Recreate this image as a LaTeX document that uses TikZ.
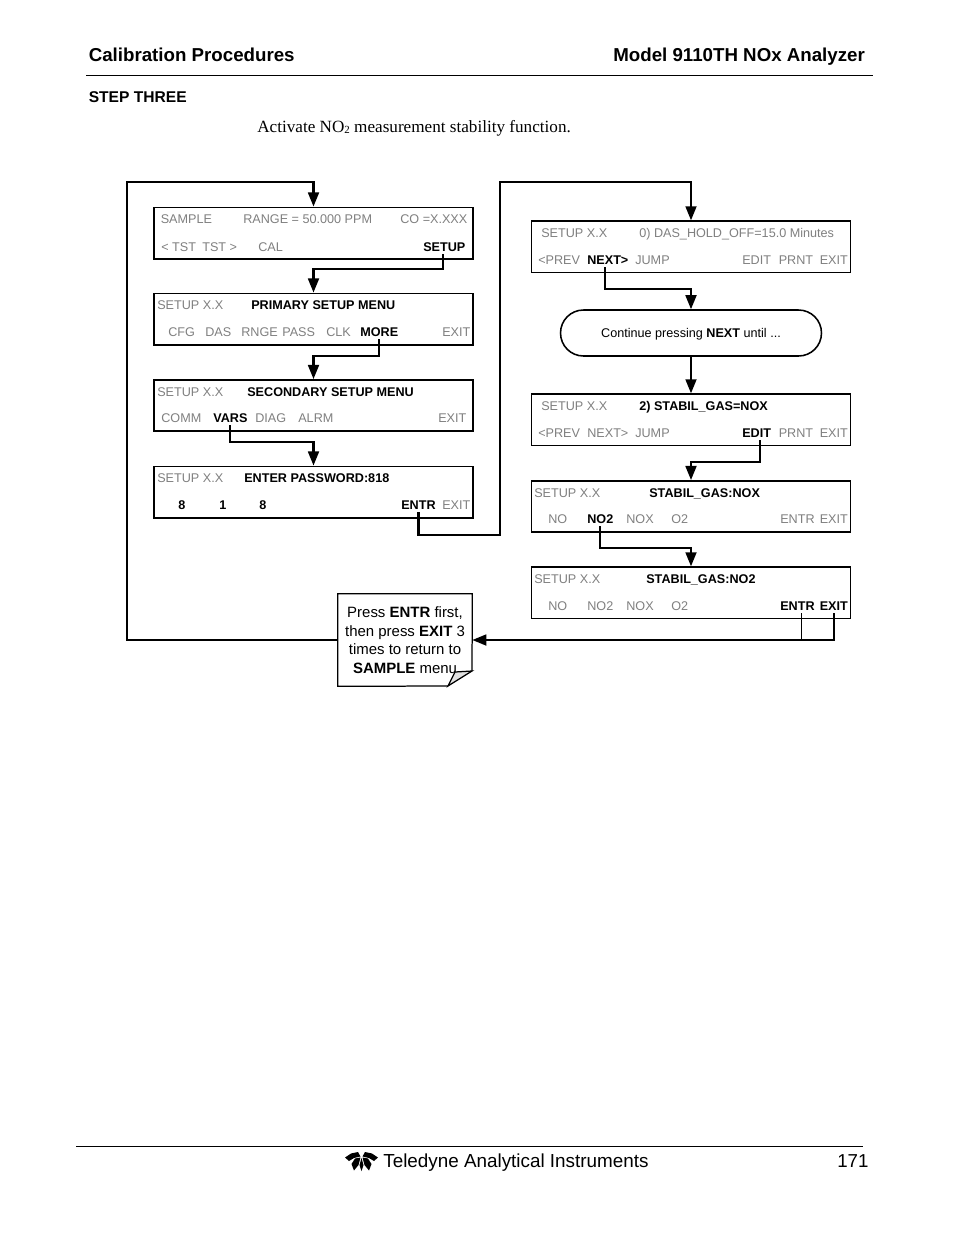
\documentclass[tikz,border=0pt]{standalone}
\usepackage{fontspec}
\setmainfont{Liberation Sans}
\newfontfamily\bodyserif{Liberation Serif}
\usetikzlibrary{arrows.meta,calc}
\definecolor{lcdgrey}{gray}{0.5}
\tikzset{
  lcdbox/.style={draw=black,line width=1pt,fill=white,inner sep=0pt,minimum width=204.6pt,minimum height=33pt},
  lbl/.style={anchor=base west,inner sep=0pt,text depth=2pt,font=\fontsize{8.1}{9.6}\selectfont},
  off/.style={lbl,text=lcdgrey},
  on/.style={lbl,text=black,font=\fontsize{8.1}{9.6}\selectfont\bfseries},
  flow/.style={draw=black,line width=1.3pt,-{Triangle[length=9pt,width=7pt]}},
  hair/.style={draw=black,line width=0.5pt},
  head/.style={anchor=base west,inner sep=0pt,font=\fontsize{12}{15}\selectfont\bfseries},
}
\begin{document}
\begin{tikzpicture}[x=0.6415pt,y=-0.6415pt]
\useasboundingbox[fill=white] (0,0) rectangle (954,1235);

% page furniture
\node[head] (title) at (88.5,61) {Calibration Procedures};
\node[head] (model) at (613,61) {Model 9110TH NOx Analyzer};
\coordinate (ruleA) at (86,75.5);
\coordinate (ruleB) at (873,75.5);
\draw[line width=1pt] (ruleA) -- (ruleB);
\node[anchor=base west,inner sep=0pt,font=\fontsize{10}{12}\selectfont\bfseries] (step) at (88.5,102) {STEP THREE};
\node[anchor=base west,inner sep=0pt,font=\bodyserif\fontsize{11}{13}\selectfont] (activate) at (257,132) {Activate NO\raisebox{-0.25ex}{\fontsize{7}{7}\selectfont 2} measurement stability function.};
\coordinate (footA) at (76,1146.5);
\coordinate (footB) at (863,1146.5);
\draw[line width=0.6pt] (footA) -- (footB);
\node[anchor=base west,inner sep=0pt,font=\fontsize{12.1}{14}\selectfont] (teledyne) at (383,1167.5) {Teledyne Analytical Instruments};
\node[anchor=base west,inner sep=0pt,font=\fontsize{12}{14}\selectfont] (page) at (837,1167.5) {171};
% logo
\fill[black] (345,1157.5) -- (351,1153.5) -- (358,1152) -- (360.5,1156.5) -- (354,1158) -- (349,1161) -- cycle;
\fill[black] (378,1157.5) -- (372,1153.5) -- (365,1152) -- (362.5,1156.5) -- (369,1158) -- (374,1161) -- cycle;
\fill[black] (360.5,1157.5) -- (355,1158.5) -- (351.5,1164) -- (354,1170.5) -- (358.5,1165) -- cycle;
\fill[black] (362.5,1157.5) -- (368,1158.5) -- (371.5,1164) -- (369,1170.5) -- (364.5,1165) -- cycle;
\fill[black] (361.5,1158) -- (359.5,1165) -- (361.5,1171) -- (363.5,1165) -- cycle;

% boxes
\node[lcdbox] (b1) at (313.5,233) {};
\node[lcdbox] (b2) at (313.5,319) {};
\node[lcdbox] (b3) at (313.5,405.5) {};
\node[lcdbox] (b4) at (313.5,492) {};
\node[lcdbox] (b5) at (691,246.8) {};
\node[lcdbox] (b6) at (691,419.8) {};
\node[lcdbox] (b7) at (691,506.5) {};
\node[lcdbox] (b8) at (691,592.8) {};
\node[draw=black,line width=1pt,rounded corners=14.7pt,fill=white,inner sep=0pt,minimum width=167.4pt,minimum height=29.5pt] (pill) at (691,333) {};
\node[anchor=base,inner sep=0pt,font=\fontsize{8.1}{9.6}\selectfont] (pilltext) at (691,337) {Continue pressing \textbf{NEXT} until ...};

% box 1
\node[off] (a1) at (160.5,223) {SAMPLE};
\node[off] (a2) at (243,223) {RANGE = 50.000 PPM};
\node[off] (a3) at (400,223) {CO =X.XXX};
\node[off] (a4) at (161,251) {< TST};
\node[off] (a5) at (202,251) {TST >};
\node[off] (a6) at (258,251) {CAL};
\node[on] (tSetup) at (423,251) {SETUP};
% box 2
\node[off] (c1) at (157,309) {SETUP X.X};
\node[on] (c2) at (251,309) {PRIMARY SETUP MENU};
\node[off] (c3) at (168,336) {CFG};
\node[off] (c4) at (205,336) {DAS};
\node[off] (c5) at (241,336) {RNGE};
\node[off] (c6) at (282,336) {PASS};
\node[off] (c7) at (326,336) {CLK};
\node[on] (tMore) at (360,336) {MORE};
\node[off] (c8) at (442,336) {EXIT};
% box 3
\node[off] (d1) at (157,396) {SETUP X.X};
\node[on] (d2) at (247,396) {SECONDARY SETUP MENU};
\node[off] (d3) at (161,422) {COMM};
\node[on] (tVars) at (213,422) {VARS};
\node[off] (d4) at (255,422) {DIAG};
\node[off] (d5) at (298,422) {ALRM};
\node[off] (d6) at (438,422) {EXIT};
% box 4
\node[off] (e1) at (157,482) {SETUP X.X};
\node[on] (e2) at (244,482) {ENTER PASSWORD:818};
\node[on] (e3) at (178,509) {8};
\node[on] (e4) at (219,509) {1};
\node[on] (e5) at (259,509) {8};
\node[on] (tEntrA) at (401,509) {ENTR};
\node[off] (e6) at (442,509) {EXIT};
% box 5
\node[off] (f1) at (541,237) {SETUP X.X};
\node[off] (f2) at (639,237) {0) DAS\_HOLD\_OFF=15.0 Minutes};
\node[off] (f3) at (538,264) {<PREV};
\node[on] (tNext) at (587,264) {NEXT>};
\node[off] (f4) at (635,264) {JUMP};
\node[off] (f5) at (742,264) {EDIT};
\node[off] (f6) at (778.5,264) {PRNT};
\node[off] (f7) at (819.5,264) {EXIT};
% box 6
\node[off] (g1) at (541,410) {SETUP X.X};
\node[on] (g2) at (639,410) {2) STABIL\_GAS=NOX};
\node[off] (g3) at (538,437) {<PREV};
\node[off] (g4) at (587,437) {NEXT>};
\node[off] (g5) at (635,437) {JUMP};
\node[on] (tEdit) at (742,437) {EDIT};
\node[off] (g6) at (778.5,437) {PRNT};
\node[off] (g7) at (819.5,437) {EXIT};
% box 7
\node[off] (h1) at (534,497) {SETUP X.X};
\node[on] (h2) at (649,497) {STABIL\_GAS:NOX};
\node[off] (h3) at (548,523) {NO};
\node[on] (tNoTwo) at (587,523) {NO2};
\node[off] (h4) at (626,523) {NOX};
\node[off] (h5) at (671,523) {O2};
\node[off] (h6) at (780,523) {ENTR};
\node[off] (h7) at (819.5,523) {EXIT};
% box 8
\node[off] (i1) at (534,583) {SETUP X.X};
\node[on] (i2) at (646,583) {STABIL\_GAS:NO2};
\node[off] (i3) at (548,610) {NO};
\node[off] (i4) at (587,610) {NO2};
\node[off] (i5) at (626,610) {NOX};
\node[off] (i6) at (671,610) {O2};
\node[on] (tEntrB) at (780,610) {ENTR};
\node[on] (tExit) at (819.5,610) {EXIT};

% note
\node[inner sep=0pt,minimum width=86pt,minimum height=59pt,align=center,font=\fontsize{9.6}{11.9}\selectfont] (note) at (405,640) {Press \textbf{ENTR} first,\\then press \textbf{EXIT} 3\\times to return to\\\textbf{SAMPLE} menu};
\coordinate (foldA) at (472,671);
\coordinate (foldB) at (448,686);
\coordinate (foldC) at (455,672);
\draw[line width=0.8pt] (foldB) -- (note.south west) -- (note.north west) -- (note.north east) -- (foldA);
\filldraw[line width=0.8pt,fill=black!12] (foldA) -- (foldB) -- (foldC) -- cycle;

% connectors
\coordinate (leftTop) at (127,182);
\coordinate (rightTop) at (500,182);
\draw[flow] (note.west) -| (leftTop) -| (b1.north);
\draw[flow] ([xshift=-1pt]tSetup.south) -- ++(0,15) -| (b2.north);
\draw[flow] (tMore.south) -- ++(0,17) -| (b3.north);
\draw[flow] (tVars.south) -- ++(0,17) -| (b4.north);
\draw[flow] (tEntrA.south) -- ++(0,23) -| (rightTop) -| (b5.north);
\draw[flow] ([xshift=-2pt]tNext.south) -- ++(0,22) -| (pill.north);
\draw[flow] (pill.south) -- (b6.north);
\draw[flow] ([xshift=2pt]tEdit.south) -- ++(0,22) -| (b7.north);
\draw[flow] (tNoTwo.south) -- ++(0,22) -| (b8.north);
\draw[flow] (tExit.south) |- (note.east);
\draw[hair] ([xshift=2.5pt]tEntrB.south) -- ([xshift=2.5pt]tEntrB.south |- note.east);
\end{tikzpicture}
\end{document}
